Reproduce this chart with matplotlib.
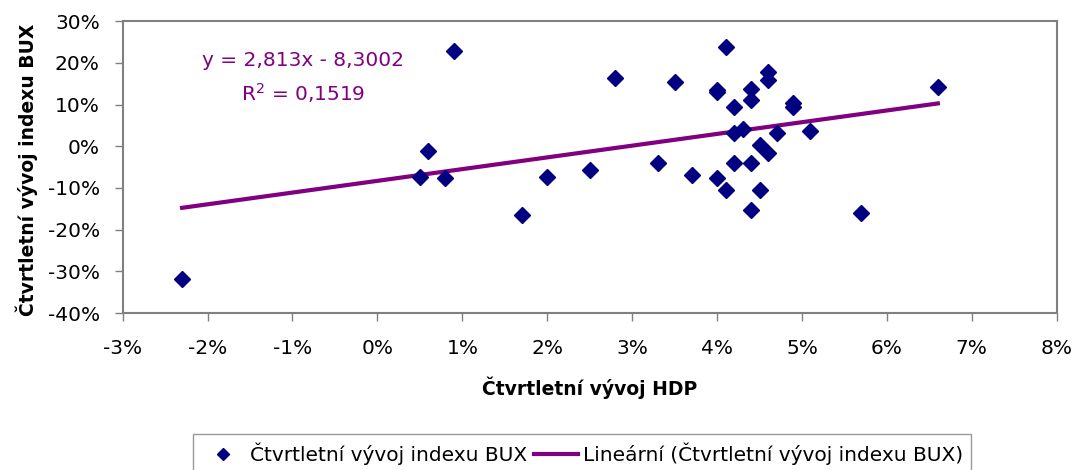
import numpy as np
import matplotlib.pyplot as plt
from matplotlib.ticker import FuncFormatter

plt.rcParams['font.family'] = ['DejaVu Sans']

# quarterly GDP change (%) vs quarterly BUX change (%)
hdp = [-2.3, 0.5, 0.6, 0.8, 0.9, 1.7, 2.0, 2.5, 2.8, 3.3, 3.5, 3.7,
       4.0, 4.0, 4.0, 4.1, 4.1, 4.2, 4.2, 4.3, 4.2, 4.4, 4.4, 4.4,
       4.4, 4.5, 4.5, 4.6, 4.6, 4.6, 4.7, 4.9, 4.9, 5.1, 5.7, 6.6]
bux = [-31.9, -7.3, -1.2, -7.5, 22.9, -16.5, -7.3, -5.6, 16.3, -4.1, 15.5, -6.9,
       13.4, 12.9, -7.7, 23.8, -10.4, 9.3, 3.2, 4.2, -4.1, 13.8, 11.1, -4.1,
       -15.2, 0.2, -10.4, 17.8, 15.9, -1.6, 3.2, 10.3, 9.5, 3.7, -16.1, 14.1]

# trend line shown in the chart
slope = 2.813
intercept = -8.3002
r2 = 0.1519

navy = '#000080'
purple = '#800080'
grey = '#808080'

fig = plt.figure(figsize=(10.75, 4.7), dpi=100)
ax = fig.add_axes([0.1141, 0.334, 0.8689, 0.621])

ax.plot(hdp, bux, linestyle='none', marker='D', markersize=8.5,
        color=navy, label='Čtvrtletní vývoj indexu BUX', zorder=3)

xs = np.array([min(hdp), max(hdp)])
ax.plot(xs, slope * xs + intercept, color=purple, linewidth=3,
        label='Lineární (Čtvrtletní vývoj indexu BUX)', zorder=2)

ax.text(-0.88, 20.6, 'y = 2,813x - 8,3002', color=purple, fontsize=14.5,
        ha='center', va='center')
ax.text(-0.88, 12.7, 'R$^2$ = 0,1519', color=purple, fontsize=14.5,
        ha='center', va='center')

ax.set_xlim(-3, 8)
ax.set_ylim(-40, 30)
ax.set_xticks(range(-3, 9))
ax.set_yticks(range(-40, 31, 10))
ax.xaxis.set_major_formatter(FuncFormatter(lambda v, p: f'{v:.0f}%'))
ax.yaxis.set_major_formatter(FuncFormatter(lambda v, p: f'{v:.0f}%'))
ax.tick_params(labelsize=14.5, color=grey, length=6, width=1)
ax.tick_params(axis='x', pad=13)
ax.tick_params(axis='y', pad=10.5)
for s in ax.spines.values():
    s.set_color(grey)
    s.set_linewidth(1.5)

ax.set_xlabel('Čtvrtletní vývoj HDP', fontsize=13.5, fontweight='bold')
ax.xaxis.set_label_coords(0.5, -0.218)
ax.set_ylabel('Čtvrtletní vývoj indexu BUX', fontsize=13.5, fontweight='bold')
ax.yaxis.set_label_coords(-0.091, 0.49)

leg = fig.legend(loc='upper left', bbox_to_anchor=(0.1795, 0.0766),
                 ncol=2, fontsize=14.5, frameon=True, fancybox=False,
                 edgecolor=grey, borderaxespad=0, columnspacing=0.3,
                 handlelength=2.2, handletextpad=0.25, markerscale=0.7)
leg.get_frame().set_linewidth(1)

fig.savefig('out.png', dpi=100)
